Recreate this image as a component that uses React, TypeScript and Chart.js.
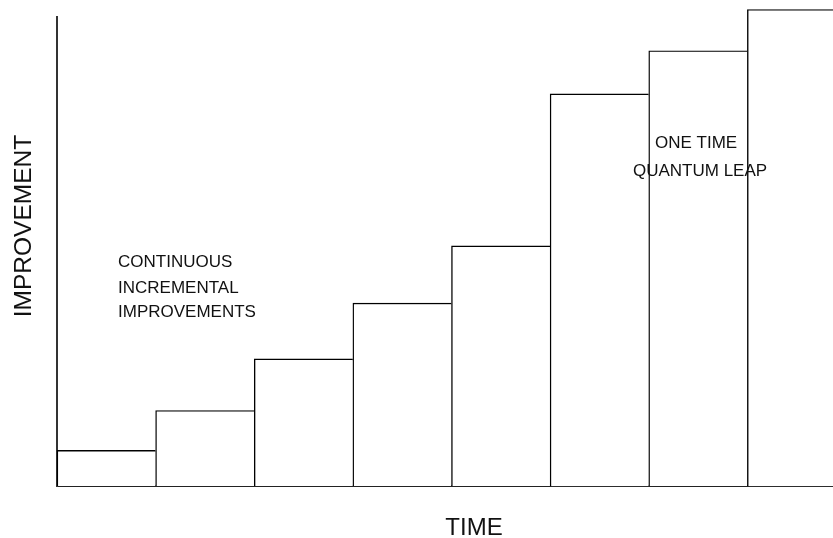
import React, { useEffect, useRef } from "react";
import { Chart, registerables } from "chart.js";

Chart.register(...registerables);

const periods = ["P1", "P2", "P3", "P4", "P5", "P6", "P7", "P8"];
const improvement = [7.6, 16.1, 27.1, 39.0, 51.2, 83.6, 92.8, 101.6];
const yTitle = "IMPROVEMENT";
const xTitle = "TIME";
const incrementalNote = ["CONTINUOUS", "INCREMENTAL", "IMPROVEMENTS"];
const leapNote = ["ONE TIME", "QUANTUM LEAP"];

const FONT = "'Liberation Sans', Arial, sans-serif";

const textPlugin = {
  id: "textNotes",
  afterDraw(chart: any) {
    const ctx = chart.ctx;
    ctx.save();
    ctx.fillStyle = "#111";
    // y title
    ctx.save();
    ctx.translate(24, 226);
    ctx.rotate(-Math.PI / 2);
    ctx.font = `24.5px ${FONT}`;
    ctx.textAlign = "center";
    ctx.textBaseline = "middle";
    ctx.fillText(yTitle, 0, 0);
    ctx.restore();
    // x title
    ctx.font = `24px ${FONT}`;
    ctx.textAlign = "center";
    ctx.textBaseline = "alphabetic";
    ctx.fillText(xTitle, 474, 535);
    // notes
    ctx.font = `17px ${FONT}`;
    ctx.textAlign = "left";
    const incY = [267, 293, 317];
    incrementalNote.forEach((t, i) => ctx.fillText(t, 118, incY[i]));
    ctx.fillText(leapNote[0], 655, 148);
    ctx.fillText(leapNote[1], 633, 176);
    ctx.restore();
  },
};

export default function App() {
  const ref = useRef<HTMLCanvasElement | null>(null);
  useEffect(() => {
    if (!ref.current) return;
    const chart = new Chart(ref.current, {
      type: "bar",
      data: {
        labels: periods,
        datasets: [
          {
            data: improvement,
            backgroundColor: "#ffffff",
            borderColor: "#000000",
            borderWidth: { left: 1.4, top: 1.4, right: 0, bottom: 0 } as any,
            borderSkipped: false as any,
            barPercentage: 1,
            categoryPercentage: 1,
            clip: false as any,
          },
        ],
      },
      options: {
        responsive: false,
        animation: false,
        layout: { padding: { left: 57, top: 17, right: 14, bottom: 52 } },
        plugins: { legend: { display: false }, tooltip: { enabled: false } },
        scales: {
          x: {
            grid: { display: false, drawTicks: false },
            ticks: { display: false },
            border: { display: true, color: "#222", width: 2 },
          },
          y: {
            min: 0,
            max: 100,
            grid: { display: false, drawTicks: false },
            ticks: { display: false },
            border: { display: true, color: "#333", width: 2 },
          },
        },
      },
      plugins: [textPlugin],
    });
    return () => chart.destroy();
  }, []);
  return (
    <div
      style={{
        position: "fixed",
        left: 0,
        top: 0,
        width: 833,
        height: 538,
        overflow: "hidden",
        background: "#fff",
      }}
    >
      <canvas ref={ref} width={860} height={538} style={{ display: "block" }} />
    </div>
  );
}
